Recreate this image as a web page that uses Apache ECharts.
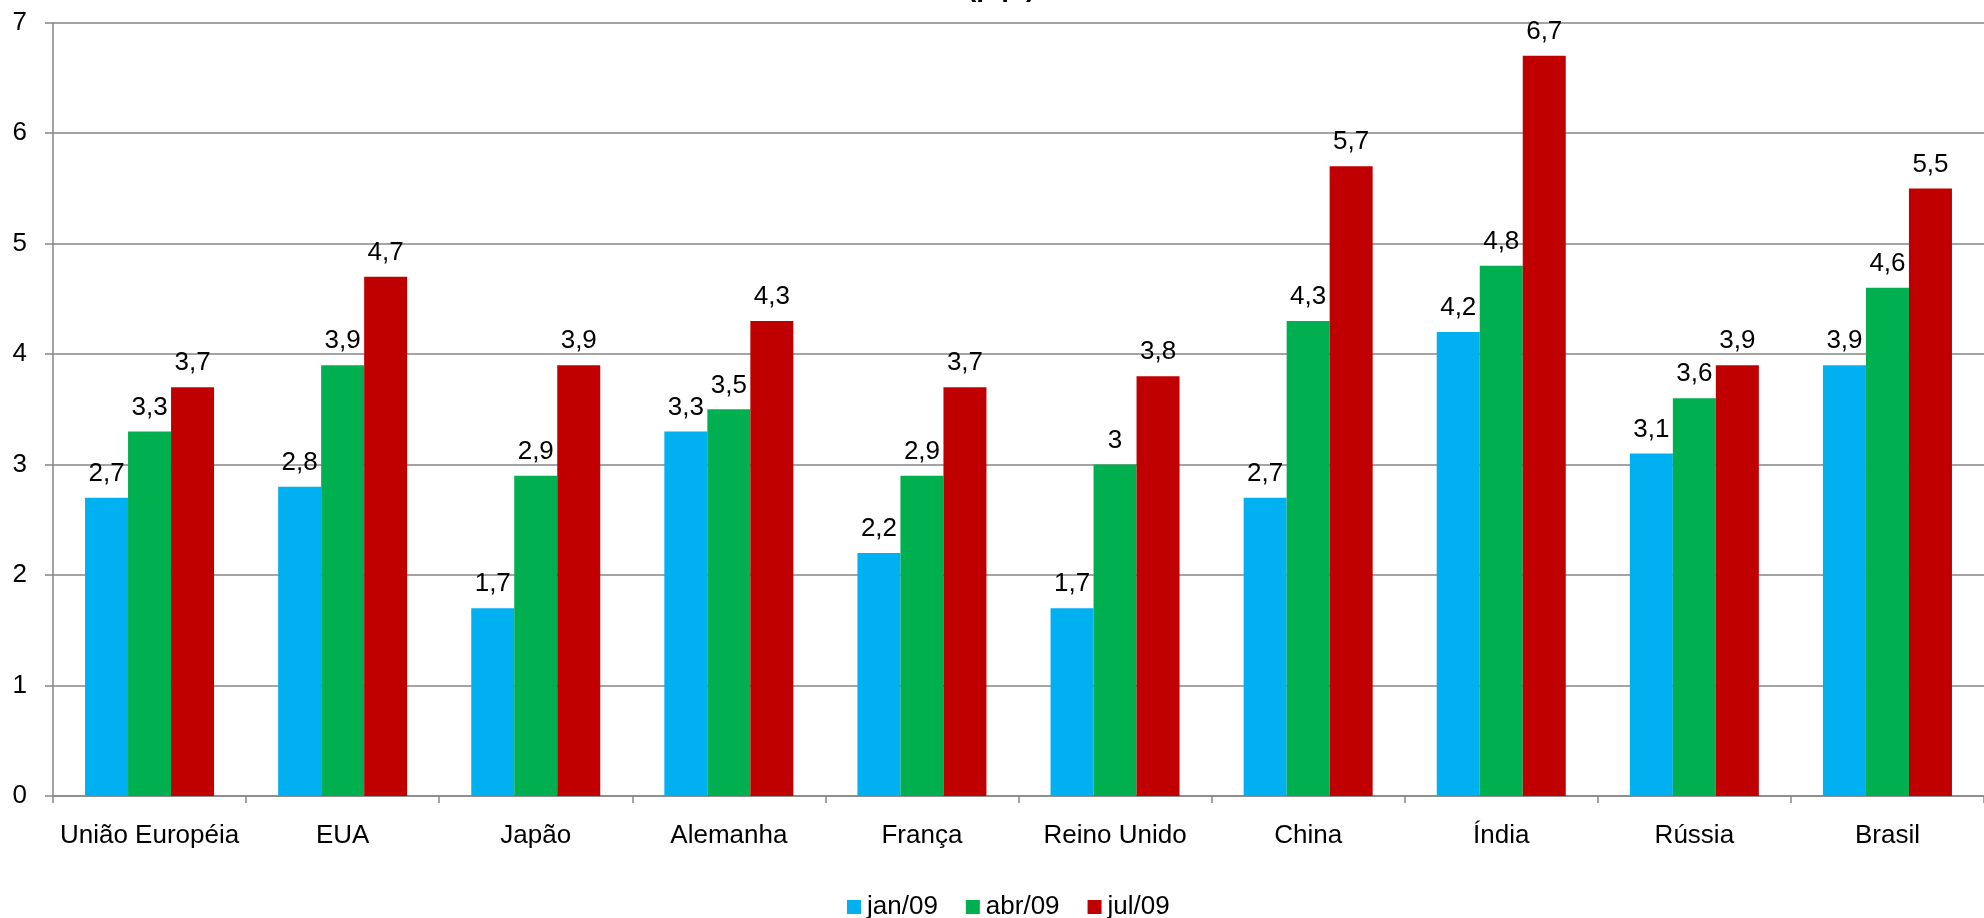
<!DOCTYPE html>
<html>
<head>
<meta charset="utf-8">
<script src="https://cdn.jsdelivr.net/npm/echarts@6/dist/echarts.min.js"></script>
<style>
html,body{margin:0;padding:0;background:#fff;}
#chart{width:1984px;height:918px;}
</style>
</head>
<body>
<div id="chart"></div>
<script>
const categories = ['União Européia','EUA','Japão','Alemanha','França','Reino Unido','China','Índia','Rússia','Brasil'];
const seriesNames = ['jan/09','abr/09','jul/09'];
const jan09 = [2.7, 2.8, 1.7, 3.3, 2.2, 1.7, 2.7, 4.2, 3.1, 3.9];
const abr09 = [3.3, 3.9, 2.9, 3.5, 2.9, 3.0, 4.3, 4.8, 3.6, 4.6];
const jul09 = [3.7, 4.7, 3.9, 4.3, 3.7, 3.8, 5.7, 6.7, 3.9, 5.5];
const yTicks = [0,1,2,3,4,5,6,7];
const colors = ['#00B0F0','#00B050','#C00000'];
const titleText = '(p.p.)';

const font = 'Liberation Sans, Arial, sans-serif';
const chart = echarts.init(document.getElementById('chart'), null, {renderer:'canvas'});
const fmt = v => String(v).replace('.', ',');
const allData = [jan09, abr09, jul09];

chart.setOption({
  animation: false,
  backgroundColor: '#fff',
  title: {
    text: titleText,
    left: 962, top: -31, padding: 5,
    textStyle: {fontFamily: font, fontSize: 28, fontWeight: 'bold', color: '#000'}
  },
  legend: {
    data: seriesNames,
    left: 842, top: 889,
    icon: 'rect', itemWidth: 14, itemHeight: 14, itemGap: 28,
    textStyle: {fontFamily: font, fontSize: 26, color: '#000', padding: [0,0,0,1]}
  },
  grid: {left: 53, right: -14, top: 22.7, bottom: 122, containLabel: false},
  xAxis: {
    type: 'category',
    data: categories,
    axisLine: {lineStyle: {color: '#868686', width: 1.5}},
    axisTick: {show: true, length: 7, lineStyle: {color: '#868686', width: 1.5}},
    axisLabel: {fontFamily: font, fontSize: 26, color: '#000', margin: 27, interval: 0}
  },
  yAxis: {
    type: 'value',
    min: yTicks[0], max: yTicks[yTicks.length-1], interval: 1,
    axisLine: {show: true, lineStyle: {color: '#868686', width: 1.5}},
    axisTick: {show: true, length: 8, lineStyle: {color: '#868686', width: 1.5}},
    splitLine: {show: true, lineStyle: {color: '#868686', width: 1.5}},
    axisLabel: {fontFamily: font, fontSize: 26, color: '#000', margin: 26}
  },
  series: seriesNames.map((name, i) => ({
    name: name,
    type: 'bar',
    data: allData[i],
    barWidth: 43,
    barGap: '0%',
    itemStyle: {color: colors[i]},
    label: {
      show: true, position: 'top', distance: 11,
      fontFamily: font, fontSize: 26, color: '#000',
      formatter: p => fmt(p.value)
    }
  }))
});
</script>
</body>
</html>
